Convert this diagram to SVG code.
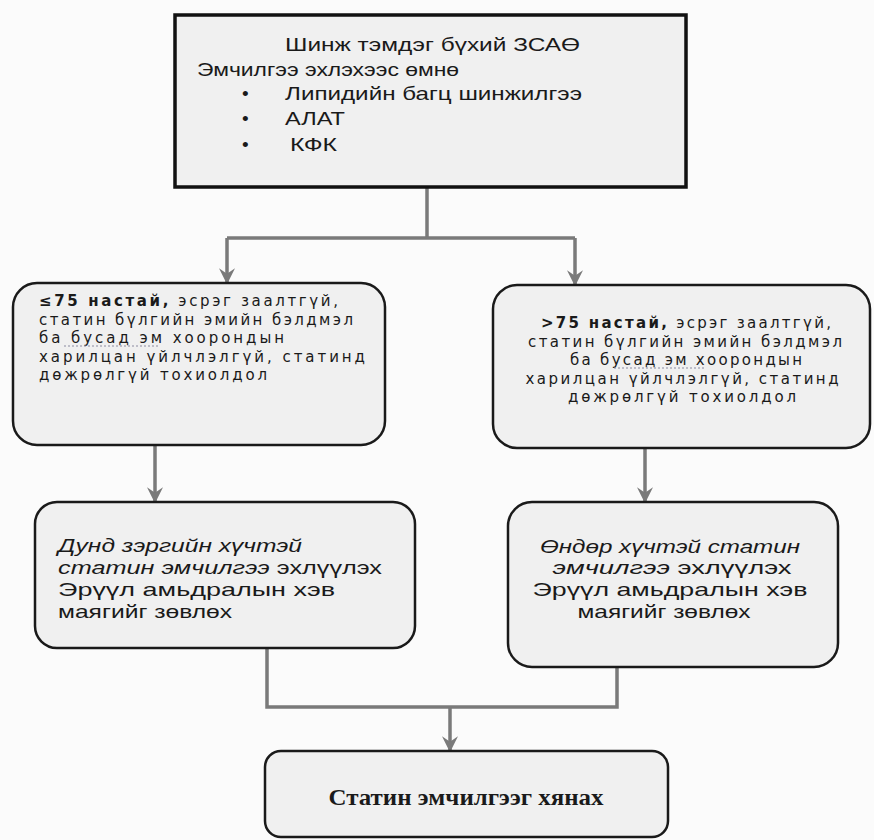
<svg xmlns="http://www.w3.org/2000/svg" width="874" height="840" viewBox="0 0 874 840">
<defs>
<marker id="arr" viewBox="0 0 12 12" refX="11" refY="6" markerWidth="16" markerHeight="16" markerUnits="userSpaceOnUse" orient="auto">
<path d="M0,0 L12,6 L0,12 L4,6 z" fill="#7a7a7a"/>
</marker>
<style>
.bg{fill:#fbfbfb}
.sq{fill:#f0f0f0;stroke:#111;stroke-width:3.5}
.rb{fill:#f0f0f0;stroke:#1a1a1a;stroke-width:2.5}
.c{fill:none;stroke:#7a7a7a;stroke-width:3.5}
.t{font-family:"Liberation Sans",Arial,sans-serif;fill:#1a1a1a}
.d{font-family:"DejaVu Sans",Verdana,sans-serif;fill:#1a1a1a;font-size:15px}
.s19{font-size:19px}
.i{font-style:italic}
.b{font-weight:bold}
.sf{font-family:"Liberation Serif","Times New Roman",serif;font-weight:bold;font-size:24px;fill:#1a1a1a}
</style>
</defs>
<rect class="bg" x="0" y="0" width="874" height="840"/>

<g id="connectors">
<path class="c" d="M427,187 V238"/>
<path class="c" d="M227,238 H575"/>
<path class="c" d="M227,238 V283" marker-end="url(#arr)"/>
<path class="c" d="M575,238 V285" marker-end="url(#arr)"/>
<path class="c" d="M155,446 V502" marker-end="url(#arr)"/>
<path class="c" d="M645,449 V502" marker-end="url(#arr)"/>
<path class="c" d="M267,649 V707 H617 V668"/>
<path class="c" d="M450,707 V751" marker-end="url(#arr)"/>
</g>

<g id="start">
<rect class="sq" x="175" y="15" width="511" height="172"/>
<text class="t s19" x="285" y="51" textLength="295" lengthAdjust="spacingAndGlyphs">Шинж тэмдэг бүхий ЗСАӨ</text>
<text class="t s19" x="197" y="76" textLength="262" lengthAdjust="spacingAndGlyphs">Эмчилгээ эхлэхээс өмнө</text>
<text class="t s19" x="242" y="100">•</text>
<text class="t s19" x="285" y="100" textLength="297" lengthAdjust="spacingAndGlyphs">Липидийн багц шинжилгээ</text>
<text class="t s19" x="242" y="125">•</text>
<text class="t s19" x="285" y="125" textLength="60" lengthAdjust="spacingAndGlyphs">АЛАТ</text>
<text class="t s19" x="242" y="151">•</text>
<text class="t s19" x="290" y="151" textLength="47" lengthAdjust="spacingAndGlyphs">КФК</text>
</g>

<g id="young">
<rect class="rb" x="13" y="283" width="372" height="162" rx="24"/>
<text class="d" x="39" y="306" textLength="299" lengthAdjust="spacing"><tspan class="b">≤75 настай,</tspan> эсрэг заалтгүй,</text>
<text class="d" x="39" y="324.5" textLength="314" lengthAdjust="spacing">статин бүлгийн эмийн бэлдмэл</text>
<text class="d" x="39" y="343" textLength="245" lengthAdjust="spacing">ба бусад  эм хоорондын</text>
<path d="M64,346 H160" stroke="#8a8aa0" stroke-width="1.2" stroke-dasharray="2 2" fill="none"/>
<text class="d" x="39" y="361.5" textLength="326" lengthAdjust="spacing">харилцан үйлчлэлгүй, статинд</text>
<text class="d" x="39" y="380" textLength="228" lengthAdjust="spacing">дөжрөлгүй тохиолдол</text>
</g>

<g id="old">
<rect class="rb" x="493" y="285" width="377" height="163" rx="24"/>
<text class="d" x="686" y="328" text-anchor="middle" textLength="290" lengthAdjust="spacing"><tspan class="b">&gt;75 настай,</tspan> эсрэг заалтгүй,</text>
<text class="d" x="685" y="346.5" text-anchor="middle" textLength="314" lengthAdjust="spacing">статин бүлгийн эмийн бэлдмэл</text>
<text class="d" x="686" y="365" text-anchor="middle" textLength="232" lengthAdjust="spacing">ба бусад  эм хоорондын</text>
<path d="M614,368 H706" stroke="#8a8aa0" stroke-width="1.2" stroke-dasharray="2 2" fill="none"/>
<text class="d" x="682" y="383.5" text-anchor="middle" textLength="313" lengthAdjust="spacing">харилцан үйлчлэлгүй, статинд</text>
<text class="d" x="682" y="402" text-anchor="middle" textLength="228" lengthAdjust="spacing">дөжрөлгүй тохиолдол</text>
</g>

<g id="moderate">
<rect class="rb" x="35" y="502" width="380" height="146" rx="22"/>
<text class="t s19 i" x="58" y="552" textLength="244" lengthAdjust="spacingAndGlyphs">Дунд зэргийн хүчтэй</text>
<text class="t s19" x="58" y="574" textLength="324" lengthAdjust="spacingAndGlyphs"><tspan class="i">статин эмчилгээ</tspan>  эхлүүлэх</text>
<text class="t s19" x="58" y="596" textLength="277" lengthAdjust="spacingAndGlyphs">Эрүүл амьдралын хэв</text>
<text class="t s19" x="58" y="618" textLength="174" lengthAdjust="spacingAndGlyphs">маягийг зөвлөх</text>
</g>

<g id="high">
<rect class="rb" x="508" y="502" width="330" height="165" rx="24"/>
<text class="t s19 i" x="670" y="553" text-anchor="middle" textLength="260" lengthAdjust="spacingAndGlyphs">Өндөр хүчтэй статин</text>
<text class="t s19" x="672" y="574" text-anchor="middle" textLength="239" lengthAdjust="spacingAndGlyphs"><tspan class="i">эмчилгээ</tspan> эхлүүлэх</text>
<text class="t s19" x="670" y="596" text-anchor="middle" textLength="275" lengthAdjust="spacingAndGlyphs">Эрүүл амьдралын хэв</text>
<text class="t s19" x="664" y="618" text-anchor="middle" textLength="173" lengthAdjust="spacingAndGlyphs">маягийг зөвлөх</text>
</g>

<g id="monitor">
<rect class="rb" x="265" y="751" width="403" height="86" rx="16"/>
<text class="sf" x="466" y="805" text-anchor="middle" textLength="275" lengthAdjust="spacingAndGlyphs">Статин эмчилгээг хянах</text>
</g>
</svg>
